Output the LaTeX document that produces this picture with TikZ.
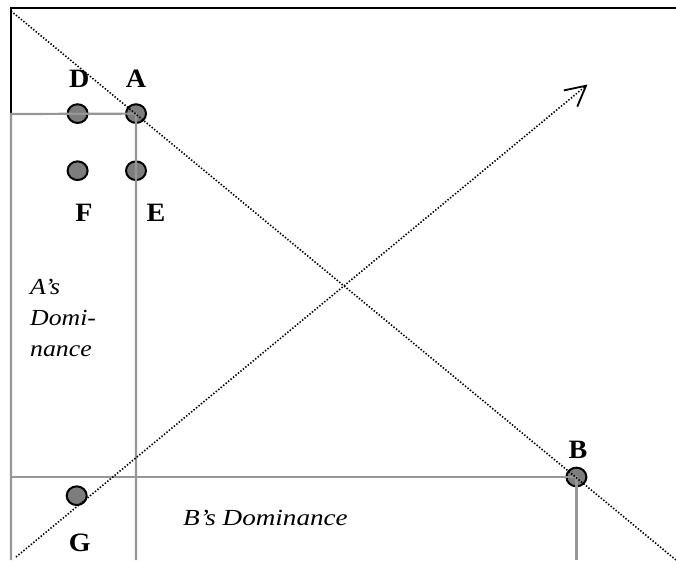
\documentclass[tikz,border=0pt]{standalone}
\usepackage{fontspec}
\setmainfont{Liberation Serif}
\usepackage{graphicx}
\usetikzlibrary{shapes.geometric,arrows.meta}
\definecolor{linegray}{RGB}{150,150,150}
\definecolor{dotgray}{RGB}{125,125,125}
\newcommand{\widen}[2]{\scalebox{#1}[1]{#2}}
\tikzset{
  dot/.style={ellipse,draw=black,line width=2pt,fill=dotgray,minimum width=20pt,minimum height=18.7pt,inner sep=0pt},
  lab/.style={anchor=base,inner sep=0pt,font=\bfseries\fontsize{26.5}{30}\selectfont},
  dom/.style={anchor=base west,inner sep=0pt,font=\itshape\fontsize{23}{31}\selectfont},
  frame/.style={draw=black,line width=2.3pt},
  region/.style={draw=linegray,line width=2.2pt},
  dotline/.style={draw=black,line width=1.6pt,dash pattern=on 1.4pt off 1.8pt}
}
\begin{document}
\begin{tikzpicture}[x=1pt,y=-1pt]
\useasboundingbox (0,0) rectangle (676,560);
% corner coordinates
\coordinate (O) at (11,8);
\coordinate (TR) at (676,8);
\coordinate (Lmid) at (11,114);
\coordinate (Lbot) at (11,560);
\coordinate (Abot) at (136,560);
\coordinate (BL) at (11,477);
\coordinate (Bbot) at (576.4,560);
\coordinate (D1s) at (11,11);
\coordinate (D1e) at (676,560);
\coordinate (D2s) at (16,557);
\coordinate (D2e) at (587.5,84.5);
% points
\node[dot] (ptD) at (77.6,113.6) {};
\node[dot] (ptA) at (136,113.6) {};
\node[dot] (ptF) at (77.6,170.7) {};
\node[dot] (ptE) at (136,170.7) {};
\node[dot] (ptB) at (576.4,477) {};
\node[dot] (ptG) at (76.7,495.7) {};
% frame
\draw[frame] (Lmid) -- (O) -- (TR);
% dominance regions
\draw[region] (Lbot) -- (Lmid) -- (ptA.center) -- (Abot);
\draw[region] (BL) -- (ptB.center) -- (Bbot);
% dotted lines
\draw[dotline] (D1s) -- (D1e);
\draw[dotline,-{Straight Barb[length=20pt,width=21pt,line width=1.8pt]}] (D2s) -- (D2e);
% labels
\node[lab] (lD) at (79.3,87.7) {\widen{1.06}{D}};
\node[lab] (lA) at (136,87.7) {\widen{1.06}{A}};
\node[lab] (lF) at (84,221.7) {\widen{1.06}{F}};
\node[lab] (lE) at (156,221.7) {\widen{1.06}{E}};
\node[lab] (lB) at (578,458) {\widen{1.06}{B}};
\node[lab] (lG) at (79.7,551) {\widen{1.06}{G}};
\node[dom] (t1) at (30,294.3) {\widen{1.12}{A’s}};
\node[dom] (t2) at (30,325) {\widen{1.12}{Domi-}};
\node[dom] (t3) at (30,356.7) {\widen{1.12}{nance}};
\node[dom] (t4) at (183,525) {\widen{1.18}{B’s Dominance}};
\end{tikzpicture}
\end{document}
